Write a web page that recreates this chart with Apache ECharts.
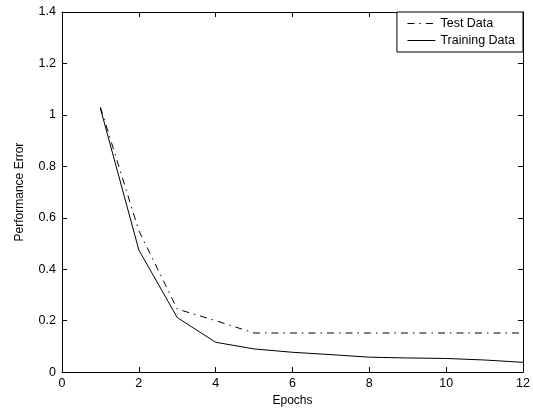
<!DOCTYPE html>
<html>
<head>
<meta charset="utf-8">
<script src="https://cdn.jsdelivr.net/npm/echarts@6/dist/echarts.min.js"></script>
<style>html,body{margin:0;padding:0;background:#fff;}#c{width:533px;height:412px;}</style>
</head>
<body>
<div id="c"></div>
<script>
const epochs = [1,2,3,4,5,6,7,8,9,10,11,12];
const testData = [1.03,0.55,0.245,0.2,0.152,0.152,0.152,0.152,0.152,0.152,0.152,0.152];
const trainingData = [1.025,0.475,0.212,0.116,0.09,0.077,0.068,0.058,0.055,0.053,0.047,0.038];
const xTicks = [0,2,4,6,8,10,12];
const yTicks = [0,0.2,0.4,0.6,0.8,1,1.2,1.4];

const font = 'Liberation Sans, Arial, sans-serif';
const chart = echarts.init(document.getElementById('c'));
const axisCommon = {
  axisLine:{show:true,onZero:false,lineStyle:{color:'#000',width:1}},
  axisTick:{show:true,inside:true,length:5,lineStyle:{color:'#000'}},
  splitLine:{show:false}
};
chart.setOption({
  animation:false,
  backgroundColor:'#fff',
  grid:{left:62,right:10,top:12,bottom:39},
  legend:{
    orient:'vertical', right:10, top:12, align:'left',
    backgroundColor:'#fff', borderColor:'#000', borderWidth:1,
    padding:[5,8,5,10], itemGap:4, itemWidth:28, itemHeight:10,
    itemStyle:{opacity:0},
    lineStyle:{width:1},
    textStyle:{fontFamily:font,fontSize:12.5,color:'#000'},
    data:['Test Data','Training Data']
  },
  xAxis:[
    Object.assign({type:'value',min:0,max:12,interval:2,position:'bottom',
      name:'Epochs',nameLocation:'middle',nameGap:20,
      nameTextStyle:{fontFamily:font,fontSize:12,color:'#000'},
      axisLabel:{fontFamily:font,fontSize:12.5,color:'#000',margin:5,
        formatter:v=>xTicks.includes(v)?String(v):''}},axisCommon),
    Object.assign({type:'value',min:0,max:12,interval:2,position:'top',
      axisLabel:{show:false}},axisCommon)
  ],
  yAxis:[
    Object.assign({type:'value',min:0,max:1.4,interval:0.2,position:'left',
      name:'Performance Error',nameLocation:'middle',nameGap:36,
      nameTextStyle:{fontFamily:font,fontSize:12,color:'#000'},
      axisLabel:{fontFamily:font,fontSize:12.5,color:'#000',margin:6,
        formatter:v=>{const t=yTicks.find(y=>Math.abs(y-v)<1e-9);return t===undefined?'':String(Math.round(t*10)/10);}}},axisCommon),
    Object.assign({type:'value',min:0,max:1.4,interval:0.2,position:'right',
      axisLabel:{show:false}},axisCommon)
  ],
  series:[
    {name:'Test Data',type:'line',symbol:'none',
      data:epochs.map((e,i)=>[e,testData[i]]),
      lineStyle:{color:'#000',width:1,type:[7,5,1.5,5]},itemStyle:{color:'#000'}},
    {name:'Training Data',type:'line',symbol:'none',
      data:epochs.map((e,i)=>[e,trainingData[i]]),
      lineStyle:{color:'#000',width:1,type:'solid'},itemStyle:{color:'#000'}}
  ]
});
</script>
</body>
</html>
